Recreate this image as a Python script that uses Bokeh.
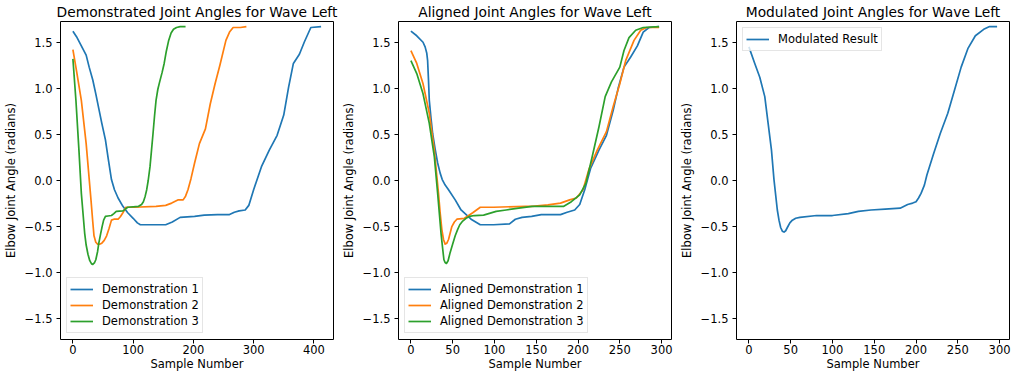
from bokeh.plotting import figure
from bokeh.layouts import row
from bokeh.models import Range1d, FixedTicker
from bokeh.embed import file_html
from bokeh.resources import INLINE

# ---------------- data ----------------
demo1_x = [0, 6, 14, 22, 27, 33, 38, 43, 48, 54, 59, 64, 69, 75, 83, 91, 100, 107, 112, 125, 140, 154, 165, 178, 202, 218, 240, 260, 268, 276, 286, 292, 300, 313, 326, 339, 350, 358, 366, 376, 384, 395, 412]
demo1_y = [1.62, 1.56, 1.46, 1.36, 1.23, 1.09, 0.94, 0.78, 0.62, 0.44, 0.22, 0.01, -0.10, -0.19, -0.28, -0.35, -0.41, -0.46, -0.48, -0.48, -0.48, -0.48, -0.45, -0.40, -0.39, -0.375, -0.37, -0.37, -0.345, -0.33, -0.32, -0.27, -0.10, 0.15, 0.33, 0.49, 0.71, 1.01, 1.27, 1.37, 1.50, 1.66, 1.67]

demo2_x = [0, 6, 14, 22, 30, 33, 35, 38, 41, 45, 48, 52, 56, 60, 64, 68, 75, 79, 83, 88, 101, 138, 154, 164, 175, 183, 187, 191, 196, 202, 210, 220, 228, 236, 244, 254, 260, 266, 278, 288]
demo2_y = [1.42, 1.19, 0.87, 0.40, -0.21, -0.45, -0.60, -0.67, -0.69, -0.69, -0.68, -0.65, -0.60, -0.52, -0.43, -0.42, -0.42, -0.39, -0.35, -0.29, -0.29, -0.28, -0.27, -0.245, -0.21, -0.21, -0.17, -0.10, 0.02, 0.19, 0.40, 0.56, 0.83, 1.05, 1.25, 1.52, 1.61, 1.66, 1.66, 1.67]

demo3_x = [0, 5, 10, 14, 19.5, 22, 25, 28, 31, 33, 36, 38, 41, 43, 46, 48.5, 51, 54, 58, 64, 68, 72, 83, 87, 91, 109, 114, 117, 120, 122.5, 125, 128, 130.5, 133, 135.5, 138, 141, 144, 148, 151.5, 155, 159, 163, 167, 172, 178, 187]
demo3_y = [1.32, 0.87, 0.33, -0.14, -0.57, -0.70, -0.80, -0.87, -0.905, -0.91, -0.89, -0.86, -0.77, -0.68, -0.58, -0.50, -0.43, -0.39, -0.385, -0.38, -0.36, -0.335, -0.33, -0.31, -0.29, -0.28, -0.26, -0.23, -0.17, -0.10, 0.0, 0.15, 0.33, 0.51, 0.70, 0.87, 0.99, 1.07, 1.17, 1.27, 1.40, 1.52, 1.60, 1.64, 1.66, 1.67, 1.67]

al1_x = [0, 7, 14.5, 17, 19, 20, 21, 22, 24, 26, 29, 32, 35, 37.5, 41, 45, 53, 60, 72, 83, 99, 118, 125, 133, 144.5, 156, 179, 187, 196, 202, 208, 215, 225, 234, 242, 248, 255, 263, 271, 278, 285, 297]
al1_y = [1.62, 1.57, 1.50, 1.45, 1.38, 1.30, 1.10, 0.87, 0.68, 0.51, 0.34, 0.19, 0.08, 0.01, -0.05, -0.10, -0.21, -0.32, -0.42, -0.48, -0.48, -0.47, -0.42, -0.40, -0.39, -0.37, -0.37, -0.345, -0.32, -0.26, -0.10, 0.13, 0.33, 0.49, 0.76, 1.00, 1.23, 1.34, 1.46, 1.61, 1.66, 1.67]

al2_x = [0, 7, 14.5, 22, 28, 33, 35, 37, 39, 41, 43, 45, 47, 49, 52, 55, 64, 74, 83, 99, 137, 145, 164, 179, 190, 198, 206, 213, 223, 234, 242, 250, 257, 267, 275, 282, 297]
al2_y = [1.41, 1.27, 1.05, 0.73, 0.33, -0.14, -0.35, -0.53, -0.64, -0.69, -0.68, -0.64, -0.57, -0.50, -0.45, -0.42, -0.41, -0.35, -0.29, -0.29, -0.28, -0.28, -0.265, -0.245, -0.21, -0.19, -0.10, 0.12, 0.33, 0.53, 0.80, 1.05, 1.30, 1.52, 1.63, 1.66, 1.66]

al3_x = [0, 7, 14.5, 22, 28, 32, 36, 38, 39.5, 41, 42.5, 44.5, 47, 50, 53, 56, 58.5, 62, 66, 70, 76, 87, 102, 114, 129, 145, 183, 192, 202, 209.5, 217, 225, 232.5, 240, 250, 255, 261, 269, 278, 297]
al3_y = [1.30, 1.16, 0.94, 0.62, 0.26, -0.14, -0.57, -0.74, -0.86, -0.89, -0.90, -0.87, -0.78, -0.69, -0.60, -0.53, -0.48, -0.44, -0.41, -0.39, -0.38, -0.375, -0.335, -0.32, -0.30, -0.28, -0.28, -0.23, -0.155, -0.03, 0.26, 0.58, 0.91, 1.07, 1.23, 1.41, 1.55, 1.63, 1.66, 1.67]

mod_x = [0, 7, 13, 19, 23, 27, 30, 34, 36, 38, 40, 42, 44, 46, 49, 52, 56, 61, 81, 100, 119, 131, 146, 163, 181, 190, 196, 200, 203, 206, 210, 213, 221, 229, 238, 246, 254, 262, 271, 281, 288, 297]
mod_y = [1.45, 1.27, 1.12, 0.91, 0.62, 0.33, 0.01, -0.32, -0.43, -0.51, -0.55, -0.56, -0.545, -0.51, -0.46, -0.43, -0.41, -0.40, -0.38, -0.38, -0.36, -0.335, -0.32, -0.31, -0.30, -0.26, -0.245, -0.23, -0.19, -0.14, -0.05, 0.06, 0.29, 0.51, 0.73, 0.98, 1.23, 1.43, 1.57, 1.64, 1.67, 1.67]

titles = ["Demonstrated Joint Angles for Wave Left",
          "Aligned Joint Angles for Wave Left",
          "Modulated Joint Angles for Wave Left"]
x_label = "Sample Number"
y_label = "Elbow Joint Angle (radians)"
y_limits = (-1.725, 1.725)
y_ticks = [-1.5, -1.0, -0.5, 0.0, 0.5, 1.0, 1.5]
x_ticks_1 = [0, 100, 200, 300, 400]
x_ticks_23 = [0, 50, 100, 150, 200, 250, 300]

# ---------------- styling ----------------
FONT = "DejaVu Sans"
COLORS = ["#1f77b4", "#ff7f0e", "#2ca02c"]
H = 373
TOP = 16
BOTTOM = 30
TICK_FS = "11.5px"
TITLE_FS = "13.8px"


def make_fig(title, width, bl, br, series, xticks, legend_loc):
    xs = [v for s in series for v in s[0]]
    xmin, xmax = min(xs), max(xs)
    pad = 0.05 * (xmax - xmin)
    p = figure(width=width, height=H, output_backend="svg", toolbar_location=None,
               x_range=Range1d(xmin - pad, xmax + pad),
               y_range=Range1d(*y_limits),
               min_border_left=bl, min_border_right=br,
               min_border_top=TOP, min_border_bottom=BOTTOM)
    p.background_fill_color = "white"
    p.border_fill_color = "white"
    p.outline_line_color = "black"
    p.outline_line_width = 1
    p.xgrid.visible = False
    p.ygrid.visible = False

    p.title.text = title
    p.title.align = "center"
    p.title.text_font = FONT
    p.title.text_font_size = TITLE_FS
    p.title.text_font_style = "normal"
    p.title.text_color = "black"
    p.title.standoff = 3

    for ax in (p.xaxis[0], p.yaxis[0]):
        ax.axis_line_color = None
        ax.major_tick_out = 4
        ax.major_tick_in = 0
        ax.major_tick_line_color = "black"
        ax.minor_tick_line_color = None
        ax.major_label_text_font = FONT
        ax.major_label_text_font_size = TICK_FS
        ax.major_label_text_color = "black"
        ax.axis_label_text_font = FONT
        ax.axis_label_text_font_size = TICK_FS
        ax.axis_label_text_font_style = "normal"
        ax.axis_label_text_color = "black"
    p.yaxis.major_label_standoff = 4
    p.yaxis.axis_label_standoff = 4
    p.xaxis.major_label_standoff = 1
    p.xaxis.axis_label_standoff = 0

    p.xaxis.axis_label = x_label
    p.yaxis.axis_label = y_label
    p.xaxis.ticker = FixedTicker(ticks=xticks)
    p.yaxis.ticker = FixedTicker(ticks=y_ticks)
    p.yaxis.major_label_overrides = {t: ("%.1f" % t).replace("-", "\u2212") for t in y_ticks}

    for (x, y, lab), c in zip(series, COLORS):
        p.line(x, y, line_color=c, line_width=1.7, line_join="round", legend_label=lab)

    lg = p.legend[0]
    lg.location = legend_loc
    lg.margin = 6
    lg.padding = 3
    lg.spacing = 0
    lg.label_height = 16
    lg.glyph_height = 16
    lg.glyph_width = 23
    lg.label_standoff = 9
    lg.label_text_font = FONT
    lg.label_text_font_size = TICK_FS
    lg.label_text_color = "black"
    lg.border_line_color = "#cccccc"
    lg.border_line_width = 1
    lg.background_fill_alpha = 0.8
    return p


p1 = make_fig(titles[0], 338, 52, 5,
              [(demo1_x, demo1_y, "Demonstration 1"),
               (demo2_x, demo2_y, "Demonstration 2"),
               (demo3_x, demo3_y, "Demonstration 3")],
              x_ticks_1, "bottom_left")
p2 = make_fig(titles[1], 338, 52, 5,
              [(al1_x, al1_y, "Aligned Demonstration 1"),
               (al2_x, al2_y, "Aligned Demonstration 2"),
               (al3_x, al3_y, "Aligned Demonstration 3")],
              x_ticks_23, "bottom_left")
p3 = make_fig(titles[2], 335, 52, 2,
              [(mod_x, mod_y, "Modulated Result")],
              x_ticks_23, "top_left")

layout = row(p1, p2, p3)
open("out.html", "w").write(file_html(layout, INLINE))
